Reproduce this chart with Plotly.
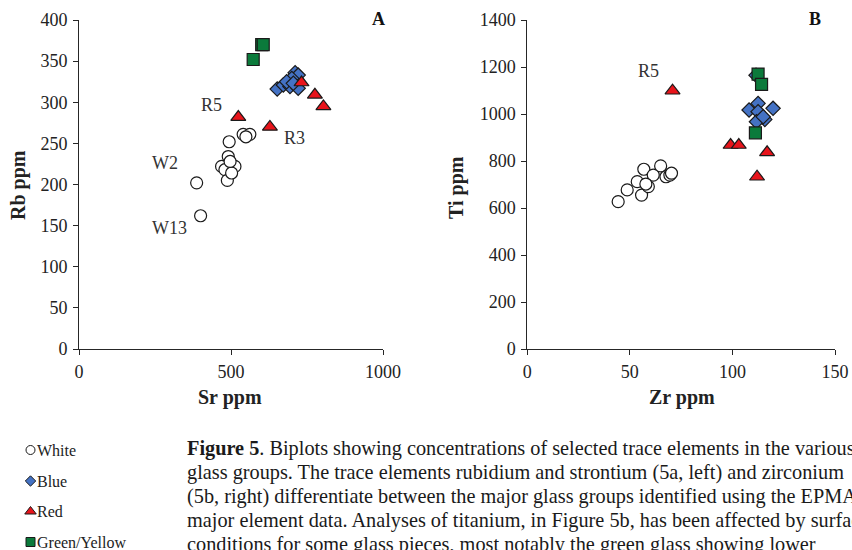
import plotly.graph_objects as go

# ---------------- data ----------------
# Panel A: Sr (x) vs Rb (y)
white_sr = [387, 400, 494, 540, 562, 549, 491, 469, 513, 480, 488, 502, 497]
white_rb = [202, 162, 252, 261, 261, 258, 234, 222, 222, 218, 205, 214, 228]
blue_sr = [652, 711, 721, 700, 672, 694, 721, 683, 705]
blue_rb = [316, 336, 333, 329, 321, 319, 317, 325, 323]
red_sr = [732, 776, 804, 524, 628]
red_rb = [324, 309, 295, 282, 270]
green_sr = [601, 606, 573]
green_rb = [370, 370, 352]

# Panel B: Zr (x) vs Ti (y)
white_zr = [44.3, 48.7, 53.6, 56.8, 55.7, 59.0, 61.4, 65.0, 67.6, 69.5, 70.3, 57.8]
white_ti = [627, 677, 712, 765, 655, 691, 740, 779, 733, 740, 748, 702]
blue_zr = [111.5, 108.1, 112.5, 119.8, 112.5, 115.8, 111.7, 115.0]
blue_ti = [1165, 1017, 1045, 1024, 1010, 977, 967, 988]
red_zr = [70.8, 99.1, 103.1, 116.9, 112.0]
red_ti = [1099, 868, 868, 837, 733]
green_zr = [112.5, 114.2, 111.2]
green_ti = [1170, 1126, 920]

# point labels
labels_a = ["R5", "R3", "W2", "W13"]
labels_a_x = [436, 710, 283, 297]
labels_a_y = [297, 256, 226, 147]
labels_b = ["R5"]
labels_b_x = [59]
labels_b_y = [1184]

xticks_a = [0, 500, 1000]
yticks_a = [0, 50, 100, 150, 200, 250, 300, 350, 400]
xticks_b = [0, 50, 100, 150]
yticks_b = [0, 200, 400, 600, 800, 1000, 1200, 1400]

legend_names = ["White", "Blue", "Red", "Green/Yellow"]

caption_lines = [
    "<b>Figure 5</b>. Biplots showing concentrations of selected trace elements in the various",
    "glass groups. The trace elements rubidium and strontium (5a, left) and zirconium",
    "(5b, right) differentiate between the major glass groups identified using the EPMA",
    "major element data. Analyses of titanium, in Figure 5b, has been affected by surface",
    "conditions for some glass pieces, most notably the green glass showing lower",
]

# ---------------- styles ----------------
FONT = "Liberation Serif, Times New Roman, serif"
W, H = 852, 550
LINE = "#262626"

styles = {
    "White": dict(symbol="circle", color="white", size=12),
    "Blue": dict(symbol="diamond", color="#4472C4", size=11),
    "Red": dict(symbol="triangle-up", color="#E8141B", size=13),
    "Green/Yellow": dict(symbol="square", color="#0B7A3B", size=12),
}

fig = go.Figure()

def add(xs, ys, name, xa, ya):
    s = styles[name]
    fig.add_trace(go.Scatter(
        x=xs, y=ys, mode="markers", name=name, showlegend=False,
        xaxis=xa, yaxis=ya, cliponaxis=False,
        marker=dict(symbol=s["symbol"], color=s["color"], size=s["size"],
                    line=dict(color="#1a1a1a", width=1.2)),
    ))

add(white_sr, white_rb, "White", "x", "y")
add(green_sr, green_rb, "Green/Yellow", "x", "y")
add(blue_sr, blue_rb, "Blue", "x", "y")
add(red_sr, red_rb, "Red", "x", "y")

add(white_zr, white_ti, "White", "x2", "y2")
add(blue_zr, blue_ti, "Blue", "x2", "y2")
add(green_zr, green_ti, "Green/Yellow", "x2", "y2")
add(red_zr, red_ti, "Red", "x2", "y2")

def px_x(p):
    return p / W

def px_y(p):
    return 1 - p / H

axis_common = dict(
    showgrid=False, zeroline=False, showline=True, linecolor=LINE, linewidth=1,
    ticks="outside", ticklen=5, tickcolor=LINE, tickwidth=1, automargin=False,
    tickfont=dict(family=FONT, size=18, color="#222222"),
)

ytop, ybot = px_y(20), px_y(349)

fig.update_layout(
    width=W, height=H,
    margin=dict(l=0, r=0, t=0, b=0, pad=0, autoexpand=False),
    paper_bgcolor="white", plot_bgcolor="rgba(0,0,0,0)",
    showlegend=False,
    font=dict(family=FONT, color="#222222"),
    xaxis=dict(**axis_common, domain=[px_x(79), px_x(383)], range=[0, 1000],
               tickvals=xticks_a, anchor="y", ticklabelstandoff=1),
    yaxis=dict(**axis_common, domain=[ybot, ytop], range=[0, 400],
               tickvals=yticks_a, anchor="x", ticklabelstandoff=2),
    xaxis2=dict(**axis_common, domain=[px_x(527.3), px_x(835)], range=[0, 150],
                tickvals=xticks_b, anchor="y2", ticklabelstandoff=1),
    yaxis2=dict(**axis_common, domain=[ybot, ytop], range=[0, 1400],
                tickvals=yticks_b, anchor="x2", ticklabelstandoff=2),
    # helper axes for the hand-drawn legend (pixel coordinates, bottom-left)
    xaxis3=dict(domain=[0, px_x(60)], range=[0, 60], visible=False, anchor="y3",
                automargin=False),
    yaxis3=dict(domain=[0, px_y(420)], range=[550, 420], visible=False, anchor="x3",
                automargin=False),
)

ann = []
# axis titles
title_font = dict(family=FONT, size=20, color="#222222")
ann.append(dict(text="<b>Sr ppm</b>", x=px_x(230), y=px_y(397), xref="paper", yref="paper",
                showarrow=False, font=title_font, xanchor="center", yanchor="middle"))
ann.append(dict(text="<b>Zr ppm</b>", x=px_x(681.5), y=px_y(397), xref="paper", yref="paper",
                showarrow=False, font=title_font, xanchor="center", yanchor="middle"))
ann.append(dict(text="<b>Rb ppm</b>", x=px_x(18), y=px_y(185), xref="paper", yref="paper",
                showarrow=False, font=title_font, textangle=-90, xanchor="center", yanchor="middle"))
ann.append(dict(text="<b>Ti ppm</b>", x=px_x(456), y=px_y(187), xref="paper", yref="paper",
                showarrow=False, font=title_font, textangle=-90, xanchor="center", yanchor="middle"))
# panel letters
ann.append(dict(text="<b>A</b>", x=px_x(378), y=px_y(19), xref="paper", yref="paper",
                showarrow=False, font=dict(family=FONT, size=18, color="#111111"),
                xanchor="center", yanchor="middle"))
ann.append(dict(text="<b>B</b>", x=px_x(815), y=px_y(19), xref="paper", yref="paper",
                showarrow=False, font=dict(family=FONT, size=18, color="#111111"),
                xanchor="center", yanchor="middle"))
# point labels
lab_font = dict(family=FONT, size=18, color="#333333")
for t, xv, yv in zip(labels_a, labels_a_x, labels_a_y):
    ann.append(dict(text=t, x=xv, y=yv, xref="x", yref="y", showarrow=False,
                    font=lab_font, xanchor="center", yanchor="middle"))
for t, xv, yv in zip(labels_b, labels_b_x, labels_b_y):
    ann.append(dict(text=t, x=xv, y=yv, xref="x2", yref="y2", showarrow=False,
                    font=lab_font, xanchor="center", yanchor="middle"))

# manual legend (bottom-left)
leg_y = [450, 481, 511.5, 542]
leg_size = {"White": 9, "Blue": 8, "Red": 10, "Green/Yellow": 9}
for name, yy in zip(legend_names, leg_y):
    s = styles[name]
    ann.append(dict(text=name, x=px_x(35), y=px_y(yy), xref="paper", yref="paper",
                    showarrow=False, font=dict(family=FONT, size=16, color="#222222"),
                    xanchor="left", yanchor="middle"))
    fig.add_trace(go.Scatter(
        x=[30.5], y=[yy], xaxis="x3", yaxis="y3", mode="markers",
        showlegend=False, hoverinfo="skip", cliponaxis=False,
        marker=dict(symbol=s["symbol"], color=s["color"], size=leg_size[name],
                    line=dict(color="#1a1a1a", width=1)),
    ))

# caption
cap_y = [448, 472, 496, 520, 544]
for line, yy in zip(caption_lines, cap_y):
    ann.append(dict(text=line, x=px_x(185), y=px_y(yy), xref="paper", yref="paper",
                    showarrow=False, font=dict(family=FONT, size=20.3, color="#1a1a1a"),
                    xanchor="left", yanchor="middle"))

fig.update_layout(annotations=ann)
fig.write_html("out.html", config={"displayModeBar": False},
               post_script="document.body.style.margin='0';document.body.style.overflow='hidden';")
